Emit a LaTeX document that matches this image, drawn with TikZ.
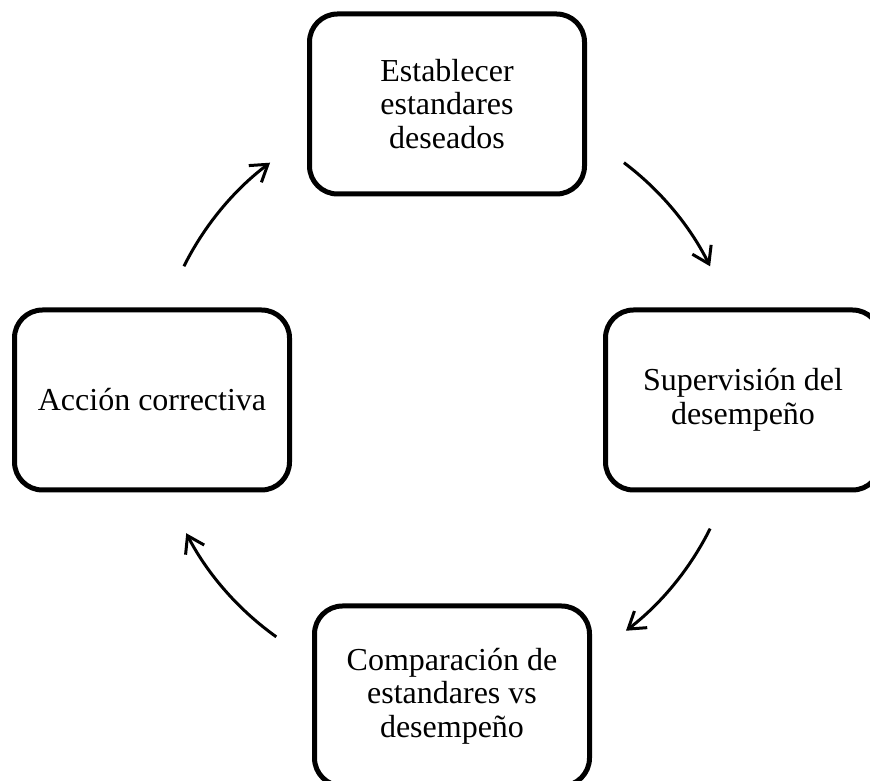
\documentclass[tikz,border=0pt]{standalone}
\usepackage{fontspec}
\setmainfont{Liberation Serif}
\usetikzlibrary{arrows.meta,calc}
\begin{document}
\begin{tikzpicture}[x=1pt,y=1pt,
  stage/.style={draw=black, line width=5pt, rounded corners=28pt,
    minimum width=275pt, minimum height=180pt, align=center,
    font=\fontsize{32}{33.6}\selectfont, inner sep=0pt},
  cyc/.style={line width=3pt, -{Straight Barb[length=16pt,width=21pt]}}]
  \useasboundingbox (0,0) rectangle (870,781);
  \clip (0,0) rectangle (870,781);
  % the four stages of the control cycle
  \node[stage] (est) at (447,677) {Establecer\\estandares\\deseados};
  \node[stage] (sup) at (743,381) {Supervisión del\\desempeño};
  \node[stage] (com) at (452,85) {Comparación de\\estandares vs\\desempeño};
  \node[stage] (acc) at (152,381) {Acción correctiva};
  % start points of the arcs on a common circle (centre (447,383.5), r = 294)
  \coordinate (cc) at (447,383.5);
  \coordinate (a1) at ($(cc)+(53:294)$);
  \coordinate (a2) at ($(cc)+(-26.5:294)$);
  \coordinate (a3) at ($(cc)+(-125.5:294)$);
  \coordinate (a4) at ($(cc)+(153.5:294)$);
  \draw[cyc] (a1) arc[start angle=53, end angle=26.5, radius=294];
  \draw[cyc] (a2) arc[start angle=-26.5, end angle=-52.5, radius=294];
  \draw[cyc] (a3) arc[start angle=-125.5, end angle=-152.5, radius=294];
  \draw[cyc] (a4) arc[start angle=153.5, end angle=127, radius=294];
\end{tikzpicture}
\end{document}
